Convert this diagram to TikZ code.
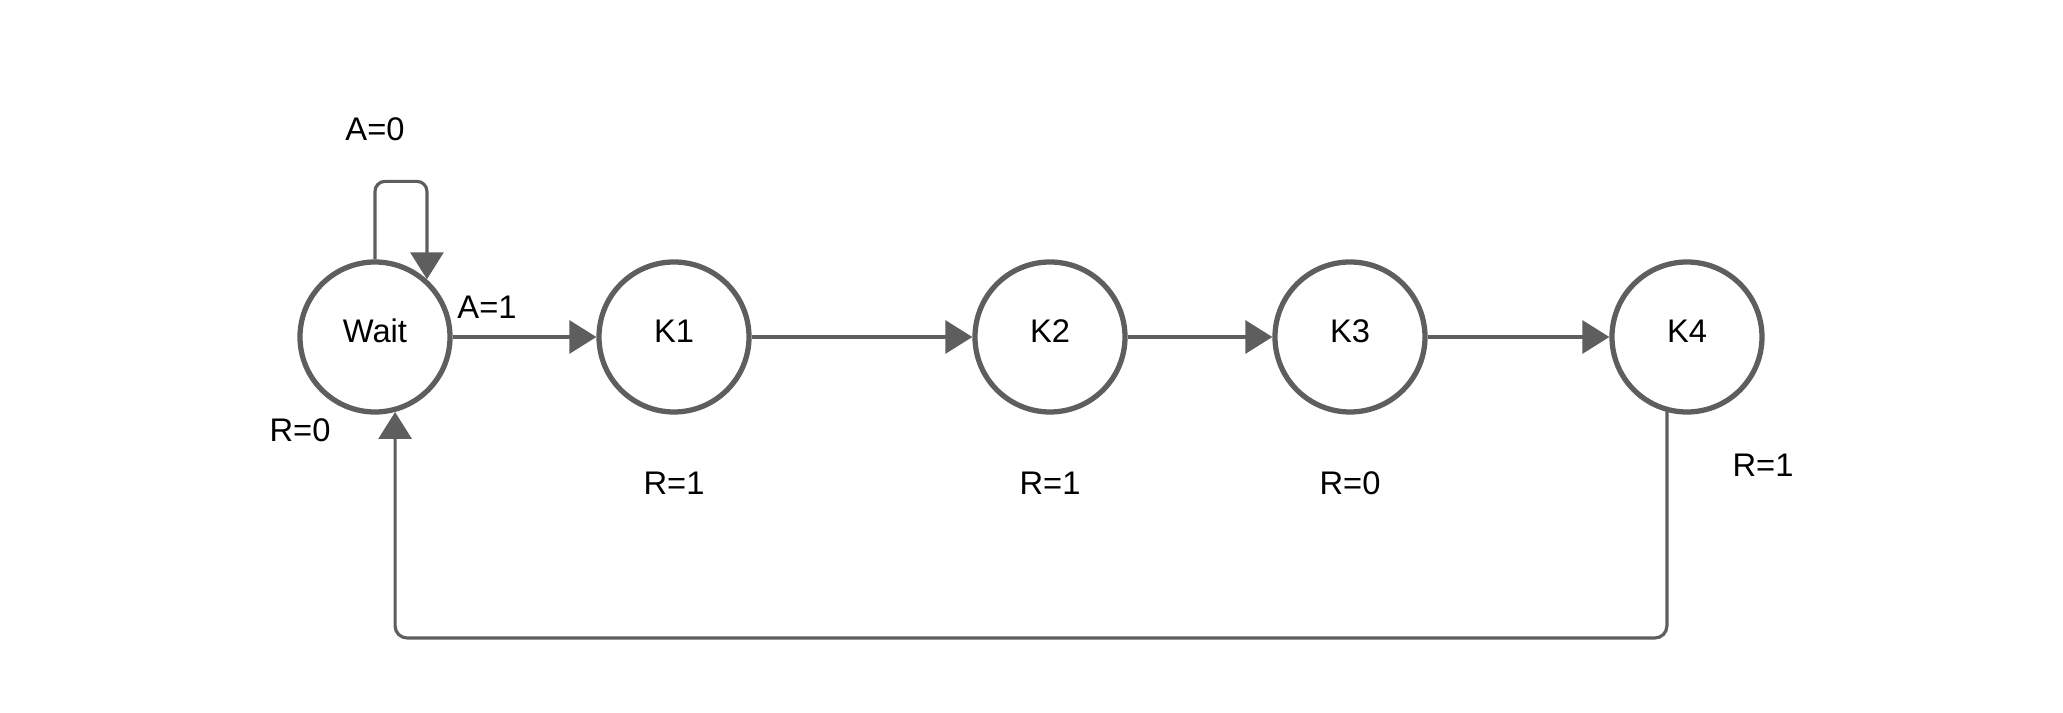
\documentclass[tikz,border=0pt]{standalone}
\usepackage{fontspec}
\setmainfont{Liberation Sans}
\usetikzlibrary{arrows.meta,positioning,calc}
\definecolor{linegray}{HTML}{5E5E5E}
\tikzset{state/.style={circle,draw=linegray,line width=1.5pt,minimum size=1.5cm,inner sep=0pt,
           text height=0.22cm,text depth=0.1cm,font=\fontsize{9.3}{11}\selectfont},
         lbl/.style={font=\fontsize{9.3}{11}\selectfont,inner sep=1pt},
         flow/.style={draw=linegray,line width=0.9pt,-{Triangle[length=0.27cm,width=0.33cm]}}}

\begin{document}
\begin{tikzpicture}
\useasboundingbox (0,0) rectangle (20.63,7.13);

\node[state] (wait) at (3.75,3.76) {Wait};
\node[state] (k1) at (6.74,3.76) {K1};
\node[state] (k2) at (10.50,3.76) {K2};
\node[state] (k3) at (13.50,3.76) {K3};
\node[state] (k4) at (16.87,3.76) {K4};

\draw[flow] (wait) -- (k1);
\draw[flow] (k1) -- (k2);
\draw[flow] (k2) -- (k3);
\draw[flow] (k3) -- (k4);

% self loop and way back
\draw[flow,rounded corners=0.1cm] (wait.north) -- ++(0,0.78) -| (wait.48);
\draw[flow,rounded corners=0.12cm] (k4.255) |- ([yshift=-2.26cm]wait.285) -- (wait.285);

\node[lbl] (a0) at (3.75,5.84) {A=0};
\node[lbl] (a1) at (4.87,4.06) {A=1};
\node[lbl] (r0) at (3.00,2.83) {R=0};
\node[lbl] (r1) at (6.74,2.30) {R=1};
\node[lbl] (r2) at (10.50,2.30) {R=1};
\node[lbl] (r3) at (13.50,2.30) {R=0};
\node[lbl] (r4) at (17.63,2.48) {R=1};

\end{tikzpicture}
\end{document}
